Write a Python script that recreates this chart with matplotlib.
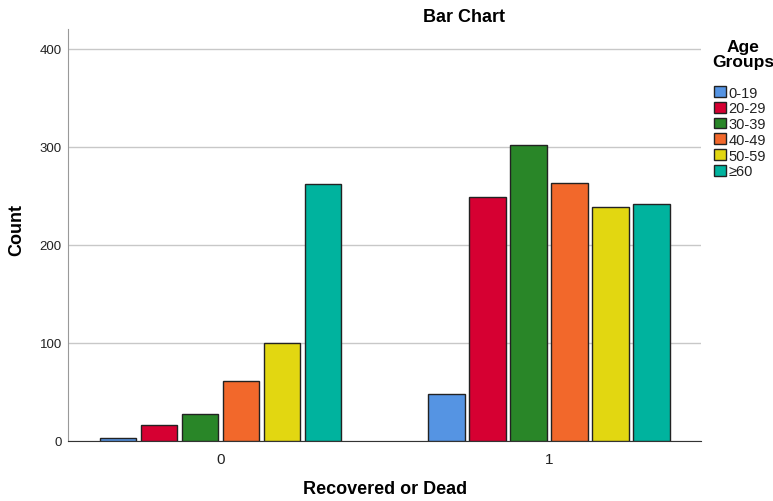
import numpy as np
import matplotlib.pyplot as plt
from matplotlib.patches import Patch

plt.rcParams['font.family'] = ['Liberation Sans', 'DejaVu Sans']

groups = ["0", "1"]
age_groups = ["0-19", "20-29", "30-39", "40-49", "50-59", "\u226560"]
counts_0 = [3, 16, 27, 61, 100, 262]
counts_1 = [48, 249, 302, 263, 239, 242]
colors = ["#5594E3", "#D60032", "#298628", "#F2682B", "#E2D711", "#00B39E"]

fig = plt.figure(figsize=(7.73, 5.02), dpi=100)
ax = fig.add_axes([0.088, 0.120, 0.819, 0.820])

x = np.arange(len(groups))
step = 0.1248
width = 0.1115
for i, age in enumerate(age_groups):
    offs = (i - 2.5) * step
    ax.bar(x + offs, [counts_0[i], counts_1[i]], width=width, color=colors[i],
           edgecolor="#222222", linewidth=1.0, zorder=3)

ax.set_xlim(-0.464, 1.464)
ax.set_ylim(0, 420)
ax.set_yticks([0, 100, 200, 300, 400])
ax.set_xticks(x)
ax.set_xticklabels(groups, fontsize=11, color="#222222")
ax.tick_params(axis='y', length=0, labelsize=9.5, pad=4.5, labelcolor="#222222")
ax.tick_params(axis='x', length=0, pad=8)
ax.yaxis.grid(True, color="#c8c8c8", linewidth=1.0, zorder=0)
ax.set_axisbelow(True)
for s in ["top", "right"]:
    ax.spines[s].set_visible(False)
ax.spines["left"].set_color("#999999")
ax.spines["bottom"].set_color("#333333")

ax.set_ylabel("Count", fontsize=13, fontweight="bold", labelpad=12.5)
ax.yaxis.set_label_coords(-0.068, 0.515)
ax.set_xlabel("Recovered or Dead", fontsize=13, fontweight="bold", labelpad=10)
fig.text(0.600, 0.966, "Bar Chart", ha="center", va="center", fontsize=13, fontweight="bold")

# legend title drawn separately so it can sit centred above the entries
fig.text(0.961, 0.921, "Age\nGroups", ha="center", va="top", multialignment="center",
         fontsize=12.5, fontweight="bold", linespacing=1.0)

handles = [Patch(facecolor=c, edgecolor="#222222", linewidth=1.0) for c in colors]
leg = fig.legend(handles, age_groups, loc="upper left", bbox_to_anchor=(0.913, 0.845),
                 frameon=False, fontsize=10.5,
                 handlelength=0.8, handleheight=0.75, handletextpad=0.15,
                 labelspacing=0.12, borderpad=0.1)
for t in leg.get_texts():
    t.set_color("#222222")

fig.savefig("out.png", dpi=100)
